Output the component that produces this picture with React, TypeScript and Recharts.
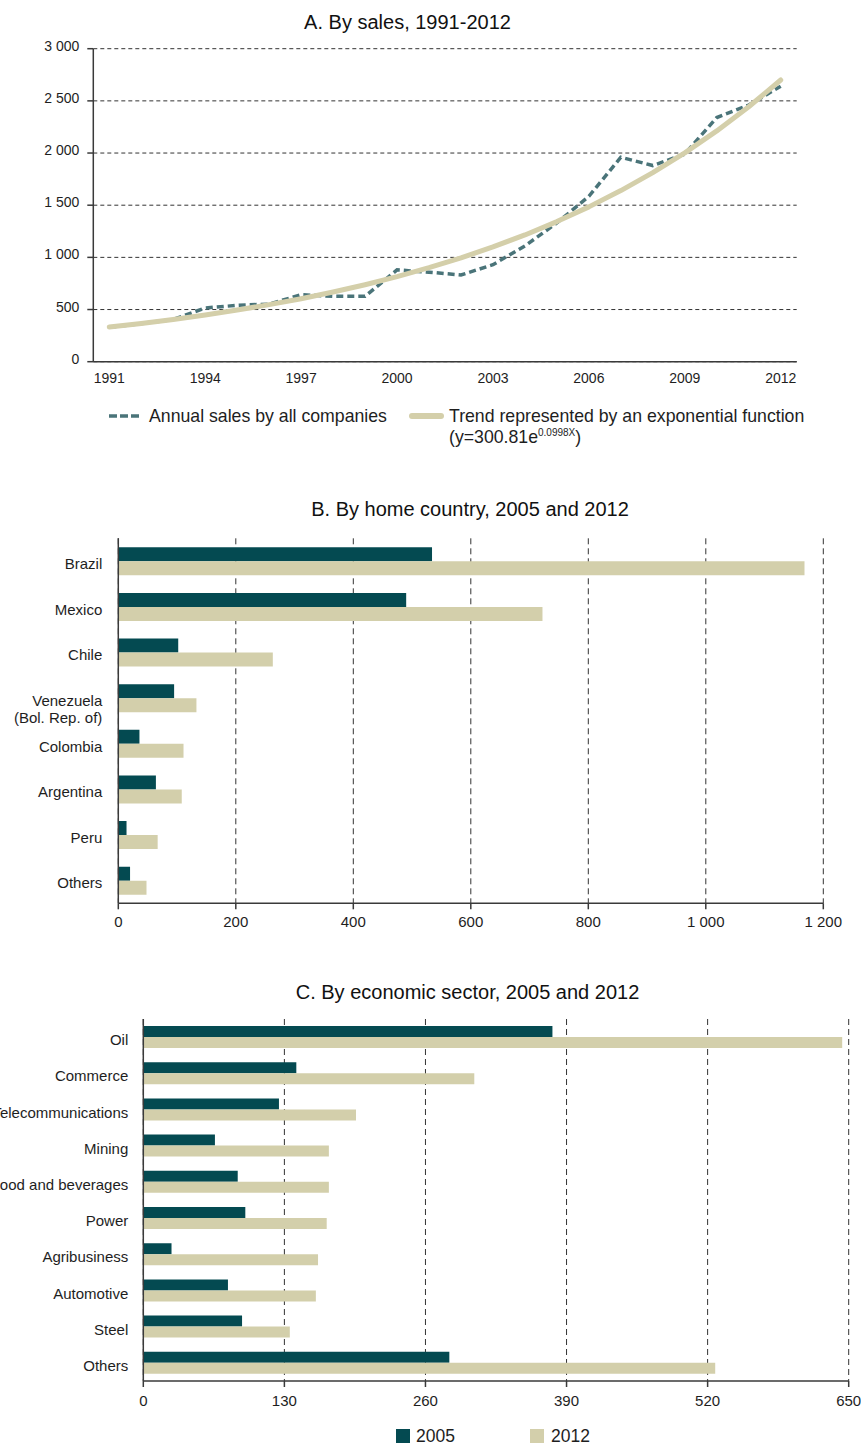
import React from 'react';
import { LineChart, Line, XAxis, YAxis, CartesianGrid, BarChart, Bar } from 'recharts';

const FONT = 'Arial, "Liberation Sans", Helvetica, sans-serif';
const TEAL_DARK = '#044a51';
const BEIGE = '#d3cfab';
const SALES_COLOR = '#4a7479';
const TREND_COLOR = '#d4cfaa';
const TEXT = '#1e1e1e';

// ---- A. By sales, 1991-2012 ----
const years = ['1991', '1992', '1993', '1994', '1995', '1996', '1997', '1998', '1999', '2000', '2001',
  '2002', '2003', '2004', '2005', '2006', '2007', '2008', '2009', '2010', '2011', '2012'];
const annualSales = [330, 365, 405, 515, 540, 552, 642, 627, 627, 880, 858, 831, 930, 1110, 1330, 1585, 1960, 1880, 1990, 2340, 2460, 2640];
const trendSales = [332, 367, 405, 448, 495, 547, 604, 668, 738, 815, 901, 995, 1100, 1215, 1343, 1484, 1640, 1812, 2002, 2212, 2444, 2700];
const salesTicks = [0, 500, 1000, 1500, 2000, 2500, 3000];

// ---- B. By home country, 2005 and 2012 ----
const countries = ['Brazil', 'Mexico', 'Chile', 'Venezuela\n(Bol. Rep. of)', 'Colombia', 'Argentina', 'Peru', 'Others'];
const country2005 = [534, 490, 102, 95, 36, 64, 14, 20];
const country2012 = [1168, 722, 263, 133, 111, 108, 67, 48];
const countryTicks = [0, 200, 400, 600, 800, 1000, 1200];

// ---- C. By economic sector, 2005 and 2012 ----
const sectors = ['Oil', 'Commerce', 'Telecommunications', 'Mining', 'Food and beverages', 'Power',
  'Agribusiness', 'Automotive', 'Steel', 'Others'];
const sector2005 = [377, 141, 125, 66, 87, 94, 26, 78, 91, 282];
const sector2012 = [644, 305, 196, 171, 171, 169, 161, 159, 135, 527];
const sectorTicks = [0, 130, 260, 390, 520, 650];

const seriesNames = ['2005', '2012'];

const salesData = years.map((year, i) => ({ year, sales: annualSales[i], trend: trendSales[i] }));
const countryData = countries.map((name, i) => ({ name, v2005: country2005[i], v2012: country2012[i] }));
const sectorData = sectors.map((name, i) => ({ name, v2005: sector2005[i], v2012: sector2012[i] }));

const boundaries = (n: number) => Array.from({ length: n + 1 }, (_, i) => i);
const yearBoundaries = boundaries(years.length);
const countryBoundaries = boundaries(countries.length);
const sectorBoundaries = boundaries(sectors.length);

const fmt = (v: number) =>
  v >= 1000 ? `${Math.floor(v / 1000)} ${String(v % 1000).padStart(3, '0')}` : String(v);

const CategoryTick = (props: any) => {
  const { x, y, payload } = props;
  const lines = String(payload.value).split('\n');
  return (
    <text x={x} y={y + 8} textAnchor="end" fontSize={15} fill={TEXT} fontFamily={FONT}>
      {lines.map((line, i) => (
        <tspan key={i} x={x} dy={i === 0 ? 0 : 17}>{line}</tspan>
      ))}
    </text>
  );
};

const titleStyle = (top: number, center: number): React.CSSProperties => ({
  position: 'absolute',
  top,
  left: center - 250,
  width: 500,
  textAlign: 'center',
  fontSize: 20,
  lineHeight: '23px',
  color: '#111',
  whiteSpace: 'nowrap',
});

const axisStroke = { stroke: '#3a3a3a', strokeWidth: 1.5 };
const LEG_A_TOP = 406;

export default function App() {
  return (
    <div style={{ position: 'absolute', left: 0, top: 0, width: 861, height: 1446, fontFamily: FONT, background: '#fff' }}>
      {/* Chart A */}
      <div style={titleStyle(11, 407.5)}>A. By sales, 1991-2012</div>
      <div style={{ position: 'absolute', left: 0, top: 0 }}>
        <LineChart width={861} height={400} data={salesData}
          margin={{ top: 48.7, right: 64.3, bottom: 400 - 361.7, left: 0 }}>
          <CartesianGrid xAxisId="cat" vertical={false} stroke="#333" strokeDasharray="4 3" />
          <XAxis xAxisId="bounds" type="number" domain={[0, years.length]} ticks={yearBoundaries}
            allowDataOverflow interval={0} tick={false} tickSize={4} height={0.001}
            axisLine={axisStroke} tickLine={axisStroke} />
          <XAxis xAxisId="cat" dataKey="year" scale="band" interval={2} tickLine={false} axisLine={false}
            height={0.001} tickSize={6} tickMargin={5}
            tick={{ fontSize: 14, fill: TEXT, fontFamily: FONT }} />
          <YAxis width={93.3} domain={[0, 3000]} ticks={salesTicks} tickFormatter={fmt} interval={0}
            axisLine={axisStroke} tickLine={axisStroke} tickSize={6} tickMargin={8}
            tick={{ fontSize: 14, fill: TEXT, fontFamily: FONT, dy: -3 }} />
          <Line xAxisId="cat" type="linear" dataKey="sales" stroke={SALES_COLOR} strokeWidth={3.5}
            strokeDasharray="7 4" dot={false} isAnimationActive={false} />
          <Line xAxisId="cat" type="linear" dataKey="trend" stroke={TREND_COLOR} strokeWidth={5}
            strokeLinecap="round" strokeLinejoin="round" dot={false} isAnimationActive={false} />
        </LineChart>
      </div>
      {/* Legend A */}
      <svg style={{ position: 'absolute', left: 109, top: LEG_A_TOP + 6.6 }} width={32} height={6}>
        <line x1={0} y1={3} x2={31} y2={3} stroke={SALES_COLOR} strokeWidth={3.5} strokeDasharray="8 3" />
      </svg>
      <div style={{ position: 'absolute', left: 149, top: LEG_A_TOP, fontSize: 17.7, lineHeight: '21px', color: TEXT, whiteSpace: 'nowrap' }}>
        Annual sales by all companies
      </div>
      <svg style={{ position: 'absolute', left: 408, top: LEG_A_TOP + 5.6 }} width={38} height={8}>
        <line x1={4} y1={4} x2={33} y2={4} stroke={TREND_COLOR} strokeWidth={6} strokeLinecap="round" />
      </svg>
      <div style={{ position: 'absolute', left: 449, top: LEG_A_TOP, fontSize: 17.7, lineHeight: '21px', color: TEXT, whiteSpace: 'nowrap' }}>
        Trend represented by an exponential function
        <br />
        (y=300.81e<sup style={{ fontSize: 10, verticalAlign: 'top', lineHeight: '12px' }}>0.0998X</sup>)
      </div>

      {/* Chart B */}
      <div style={titleStyle(498, 470)}>B. By home country, 2005 and 2012</div>
      <div style={{ position: 'absolute', left: 0, top: 490 }}>
        <BarChart layout="vertical" width={861} height={450} data={countryData}
          margin={{ top: 538.3 - 490, right: 861 - 823.3, bottom: 940 - 903.3 - 30, left: 118.3 }}
          barCategoryGap={9} barGap={0}>
          <CartesianGrid yAxisId="cat" horizontal={false} stroke="#333" strokeDasharray="6 4" />
          <XAxis type="number" domain={[0, 1200]} ticks={countryTicks} tickFormatter={fmt} interval={0}
            allowDataOverflow axisLine={axisStroke} tickLine={axisStroke} tickSize={6} tickMargin={7}
            height={30} tick={{ fontSize: 15, fill: TEXT, fontFamily: FONT }} />
          <YAxis yAxisId="bounds" type="number" domain={[0, countries.length]} ticks={countryBoundaries}
            allowDataOverflow interval={0} tick={false} tickSize={5} width={0.001}
            axisLine={axisStroke} tickLine={axisStroke} />
          <YAxis yAxisId="cat" type="category" dataKey="name" width={0.001} interval={0}
            tickLine={false} axisLine={false} tickSize={8} tickMargin={8} tick={<CategoryTick />} />
          <Bar yAxisId="cat" dataKey="v2005" name={seriesNames[0]} fill={TEAL_DARK} isAnimationActive={false} />
          <Bar yAxisId="cat" dataKey="v2012" name={seriesNames[1]} fill={BEIGE} isAnimationActive={false} />
        </BarChart>
      </div>

      {/* Chart C */}
      <div style={titleStyle(981, 467.5)}>C. By economic sector, 2005 and 2012</div>
      <div style={{ position: 'absolute', left: 0, top: 1000 }}>
        <BarChart layout="vertical" width={861} height={446} data={sectorData}
          margin={{ top: 19, right: 861 - 848.7, bottom: 446 - 381 - 30, left: 143.3 }}
          barCategoryGap={7} barGap={0}>
          <CartesianGrid yAxisId="cat" horizontal={false} stroke="#333" strokeDasharray="6 4" />
          <XAxis type="number" domain={[0, 650]} ticks={sectorTicks} interval={0}
            allowDataOverflow axisLine={axisStroke} tickLine={axisStroke} tickSize={6} tickMargin={8}
            height={30} tick={{ fontSize: 15, fill: TEXT, fontFamily: FONT }} />
          <YAxis yAxisId="bounds" type="number" domain={[0, sectors.length]} ticks={sectorBoundaries}
            allowDataOverflow interval={0} tick={false} tickSize={5} width={0.001}
            axisLine={axisStroke} tickLine={axisStroke} />
          <YAxis yAxisId="cat" type="category" dataKey="name" width={0.001} interval={0}
            tickLine={false} axisLine={false} tickSize={7} tickMargin={8} tick={<CategoryTick />} />
          <Bar yAxisId="cat" dataKey="v2005" name={seriesNames[0]} fill={TEAL_DARK} isAnimationActive={false} />
          <Bar yAxisId="cat" dataKey="v2012" name={seriesNames[1]} fill={BEIGE} isAnimationActive={false} />
        </BarChart>
      </div>
      {/* Legend C */}
      <div style={{ position: 'absolute', left: 396, top: 1429, width: 14, height: 14, background: TEAL_DARK }} />
      <div style={{ position: 'absolute', left: 416, top: 1425.5, fontSize: 17.5, lineHeight: '21px', color: TEXT }}>{seriesNames[0]}</div>
      <div style={{ position: 'absolute', left: 530, top: 1429, width: 14, height: 14, background: BEIGE }} />
      <div style={{ position: 'absolute', left: 551, top: 1425.5, fontSize: 17.5, lineHeight: '21px', color: TEXT }}>{seriesNames[1]}</div>
    </div>
  );
}
